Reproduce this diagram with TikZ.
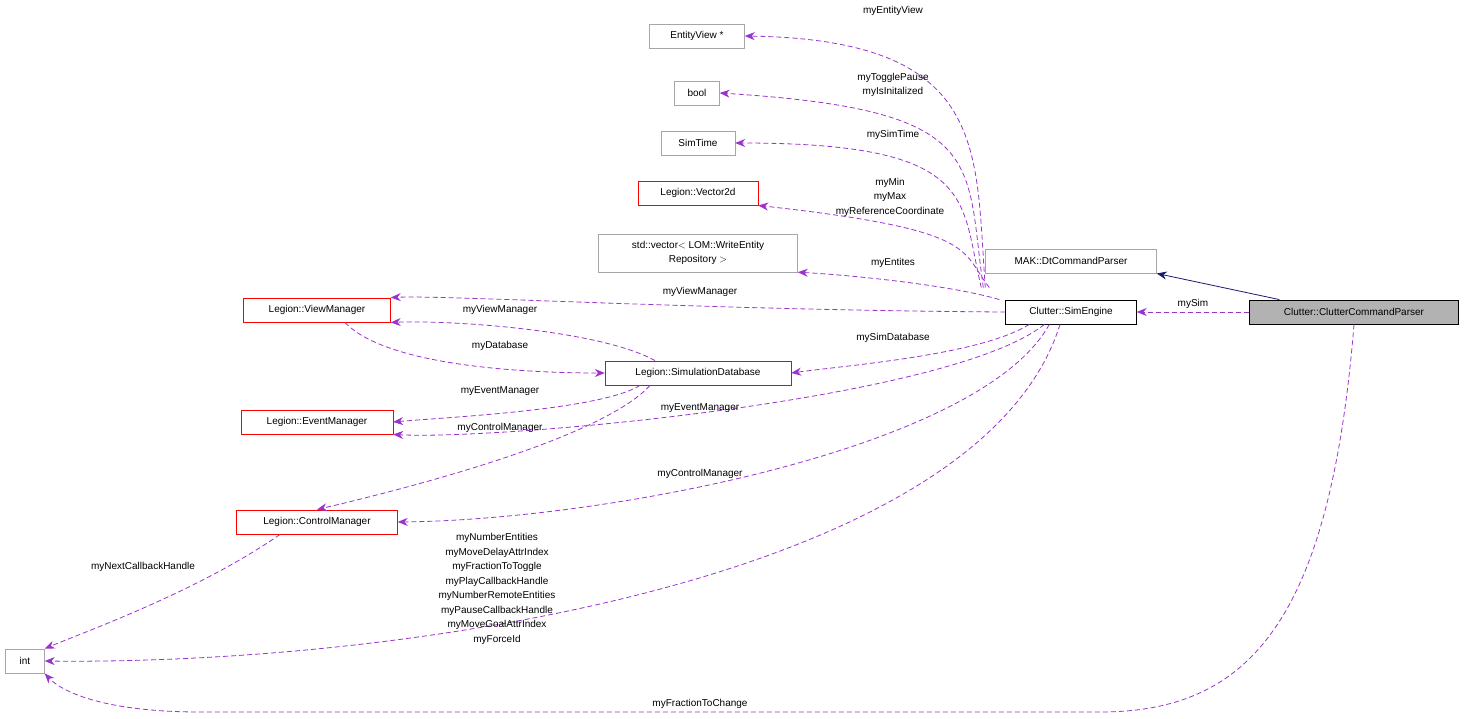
\documentclass[tikz,border=0pt]{standalone}
\usepackage{fontspec}
\setmainfont{Liberation Sans}
\usetikzlibrary{arrows.meta}
\definecolor{relColor}{RGB}{154,50,205}
\definecolor{inhColor}{RGB}{25,25,112}
\tikzset{
  cls/.style={draw=#1, fill=white, inner sep=0pt, minimum height=24.5pt, align=center, font=\fontsize{10}{14.5}\selectfont},
  cls/.default=gray!70,
  rel/.style={draw=relColor, dash pattern=on 5pt off 3pt, -{Stealth[length=10pt,width=8pt]}, line width=0.8pt},
  inh/.style={draw=inhColor, -{Stealth[length=10pt,width=8pt]}, line width=0.8pt},
  lbl/.style={font=\fontsize{10}{14.5}\selectfont, align=center, inner sep=0pt}
}
\begin{document}
\begin{tikzpicture}[x=1pt,y=-1pt]
\useasboundingbox (0,0) rectangle (1464,719);
% classes
\node[cls, minimum width=95pt] (ev) at (697,36) {EntityView *};
\node[cls, minimum width=45pt] (bo) at (697,93) {bool};
\node[cls, minimum width=74pt] (st) at (698,143) {SimTime};
\node[cls=red, minimum width=120pt] (v2) at (698,193) {Legion::Vector2d};
\node[cls, minimum width=199pt, minimum height=38pt] (vec) at (698,253) {std::vector$<$ LOM::WriteEntity\\Repository $>$};
\node[cls, minimum width=171pt] (dt) at (1071,261) {MAK::DtCommandParser};
\node[cls=red, minimum width=147pt] (vm) at (317,310) {Legion::ViewManager};
\node[cls=black, minimum width=131pt] (se) at (1071,312) {Clutter::SimEngine};
\node[cls=black, fill=gray!60, minimum width=209pt] (ccp) at (1354,312) {Clutter::ClutterCommandParser};
\node[cls=red, minimum width=186pt] (sd) at (698,373) {Legion::SimulationDatabase};
\node[cls=red, minimum width=152pt] (em) at (317,422) {Legion::EventManager};
\node[cls=red, minimum width=161pt] (cm) at (317,522) {Legion::ControlManager};
\node[cls, minimum width=39pt] (in) at (25,661) {int};
% relations
\draw[inh] (ccp.north west)++(30,0) -- (dt.south east);
\draw[rel] (ccp) -- node[lbl, above=3pt] (l1) {mySim} (se);
\draw[rel] (se.north west)++(-20,-12) .. controls (975,150) and (990,40) .. (ev.east);
\draw[rel] (se.north west)++(-22,-12) .. controls (965,160) and (990,110) .. (bo.east);
\draw[rel] (se.north west)++(-24,-12) .. controls (960,200) and (980,143) .. (st.east);
\draw[rel] (se.north west)++(-16,-12) .. controls (960,250) and (980,230) .. (v2.south east);
\draw[rel] (se.north west)++(-6,0) .. controls (950,285) and (850,275) .. (vec.south east);
\draw[rel] (se.west) .. controls (700,310) and (450,295) .. (vm.north east);
\draw[rel] (sd.north)++(-43,0) .. controls (600,330) and (450,320) .. (vm.south east);
\draw[rel] (vm.south)++(28,0) .. controls (390,370) and (550,373) .. (sd.west);
\draw[rel] (se.south west)++(24,0) .. controls (980,355) and (850,365) .. (sd.east);
\draw[rel] (sd.south)++(-58,0) .. controls (600,410) and (450,417) .. (em.east);
\draw[rel] (se.south west)++(39,0) .. controls (950,400) and (500,440) .. (em.south east);
\draw[rel] (sd.south)++(-48,0) .. controls (600,440) and (400,490) .. (cm.north);
\draw[rel] (se.south west)++(44,0) .. controls (980,450) and (600,520) .. (cm.east);
\draw[rel] (se.south)++(-11,0) .. controls (980,580) and (400,665) .. (in.east);
\draw[rel] (cm.south)++(-37,0) .. controls (200,590) and (90,630) .. (in.north east);
\draw[rel] (ccp.south) .. controls (1330,620) and (1250,712) .. (1100,712) -- (200,712) .. controls (100,712) and (60,690) .. (in.south east);
% labels
\node[lbl] at (893,11) {myEntityView};
\node[lbl] at (893,85) {myTogglePause\\myIsInitalized};
\node[lbl] at (893,135) {mySimTime};
\node[lbl] at (890,197) {myMin\\myMax\\myReferenceCoordinate};
\node[lbl] at (893,263) {myEntites};
\node[lbl] at (700,292) {myViewManager};
\node[lbl] at (500,310) {myViewManager};
\node[lbl] at (500,346) {myDatabase};
\node[lbl] at (893,338) {mySimDatabase};
\node[lbl] at (500,391) {myEventManager};
\node[lbl] at (700,408) {myEventManager};
\node[lbl] at (500,428) {myControlManager};
\node[lbl] at (700,474) {myControlManager};
\node[lbl] at (143,567) {myNextCallbackHandle};
\node[lbl] at (497,589) {myNumberEntities\\myMoveDelayAttrIndex\\myFractionToToggle\\myPlayCallbackHandle\\myNumberRemoteEntities\\myPauseCallbackHandle\\myMoveGoalAttrIndex\\myForceId};
\node[lbl] at (700,704) {myFractionToChange};
\end{tikzpicture}
\end{document}
